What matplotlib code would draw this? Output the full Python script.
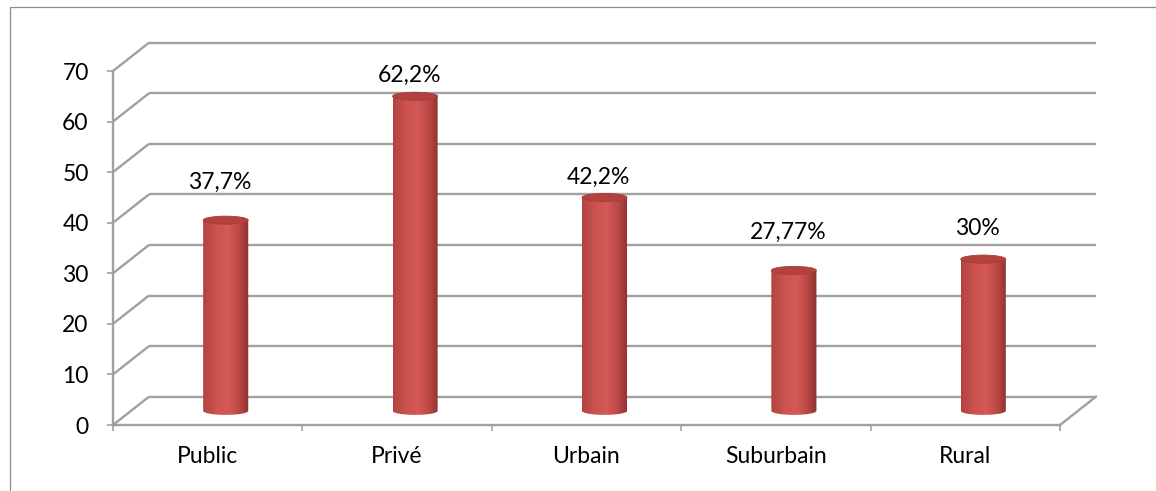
import numpy as np
import matplotlib
matplotlib.use('Agg')
import matplotlib.pyplot as plt
from matplotlib.patches import Ellipse, Rectangle, PathPatch
from matplotlib.path import Path
from matplotlib.colors import LinearSegmentedColormap

plt.rcParams['font.family'] = ['Lato', 'DejaVu Sans']

categories = ['Public', 'Privé', 'Urbain', 'Suburbain', 'Rural']
values = [37.7, 62.2, 42.2, 27.77, 30]
labels = ['37,7%', '62,2%', '42,2%', '27,77%', '30%']
label_offsets = [10.2, 7.0, 6.8, 10.4, 8.8]   # data units above bar top
yticks = [0, 10, 20, 30, 40, 50, 60, 70]

W, H = 1156, 491
fig = plt.figure(figsize=(W / 100, H / 100), dpi=100)
ax = fig.add_axes([113 / W, 1 - 425 / H, (1060 - 113) / W, (425 - 71) / H])
ax.set_xlim(0, 5)
ax.set_ylim(0, 70)

# outer chart border (extends past the crop)
fig.patches.append(Rectangle((10 / W, -0.1), 1.2, 1 - 7 / H + 0.1,
                             transform=fig.transFigure, fill=False,
                             ec='#8c8c8c', lw=0.9))

DX, DY = 0.19, 5.6      # depth offset of the back wall
grid_c = '#a0a0a0'
glw = 1.7
fs = 16.5

# walls: left side diagonals + back wall gridlines
for v in yticks:
    ax.plot([0, DX], [v, v + DY], color=grid_c, lw=glw, clip_on=False,
            solid_capstyle='butt', zorder=1)
    ax.plot([DX, 5 + DX], [v + DY, v + DY], color=grid_c, lw=glw,
            clip_on=False, solid_capstyle='butt', zorder=1)
# floor right edge
ax.plot([5, 5 + DX], [0, DY], color=grid_c, lw=glw, clip_on=False, zorder=1)

for s in ['top', 'right']:
    ax.spines[s].set_visible(False)
for s in ['left', 'bottom']:
    ax.spines[s].set_color(grid_c)
    ax.spines[s].set_linewidth(glw)
    ax.spines[s].set_zorder(1)
ax.patch.set_visible(False)

ax.set_yticks(yticks)
ax.tick_params(axis='y', length=4.5, color=grid_c, width=1.2,
               labelsize=fs, pad=13)
ax.set_xticks(np.arange(5) + 0.5)
ax.set_xticklabels(categories)
ax.set_xticks(np.arange(6), minor=True)
ax.tick_params(axis='x', which='major', length=0, labelsize=fs, pad=15)
ax.tick_params(axis='x', which='minor', length=4.5, color=grid_c, width=1.2)

# cylinders
cmap = LinearSegmentedColormap.from_list('cyl', [
    (0.0, '#b24341'), (0.3, '#cc5350'), (0.55, '#d35956'),
    (0.8, '#bb4744'), (1.0, '#8a3230')])
grad = np.linspace(0, 1, 256).reshape(1, -1)
hw = 0.119     # half width in category units
eh = 0.8       # ellipse half height in value units
for i, v in enumerate(values):
    cx = i + 0.5 + DX / 2
    y0 = DY / 2
    y1 = v + DY / 2
    verts = [(cx - hw, y1), (cx - hw, y0)] + \
        [(cx + hw * np.cos(a), y0 + eh * np.sin(a)) for a in np.linspace(np.pi, 2 * np.pi, 40)] + \
        [(cx + hw, y1), (cx - hw, y1)]
    body = PathPatch(Path(verts, closed=True), fc='none', ec='none',
                     transform=ax.transData)
    ax.add_patch(body)
    im = ax.imshow(grad, cmap=cmap, aspect='auto',
                   extent=[cx - hw, cx + hw, y0 - eh, y1],
                   zorder=3, interpolation='bilinear')
    im.set_clip_path(body)
    top = Ellipse((cx, y1), 2 * hw, 2 * eh, fc='#b3423f', ec='#a63d3a',
                  lw=0.6, zorder=4)
    ax.add_patch(top)
    ax.text(i + 0.5 + 0.065, v + label_offsets[i], labels[i], ha='center',
            va='center', fontsize=fs, color='black', zorder=5)

ax.set_xlim(0, 5)
ax.set_ylim(0, 70)
fig.savefig('out.png', dpi=100)
